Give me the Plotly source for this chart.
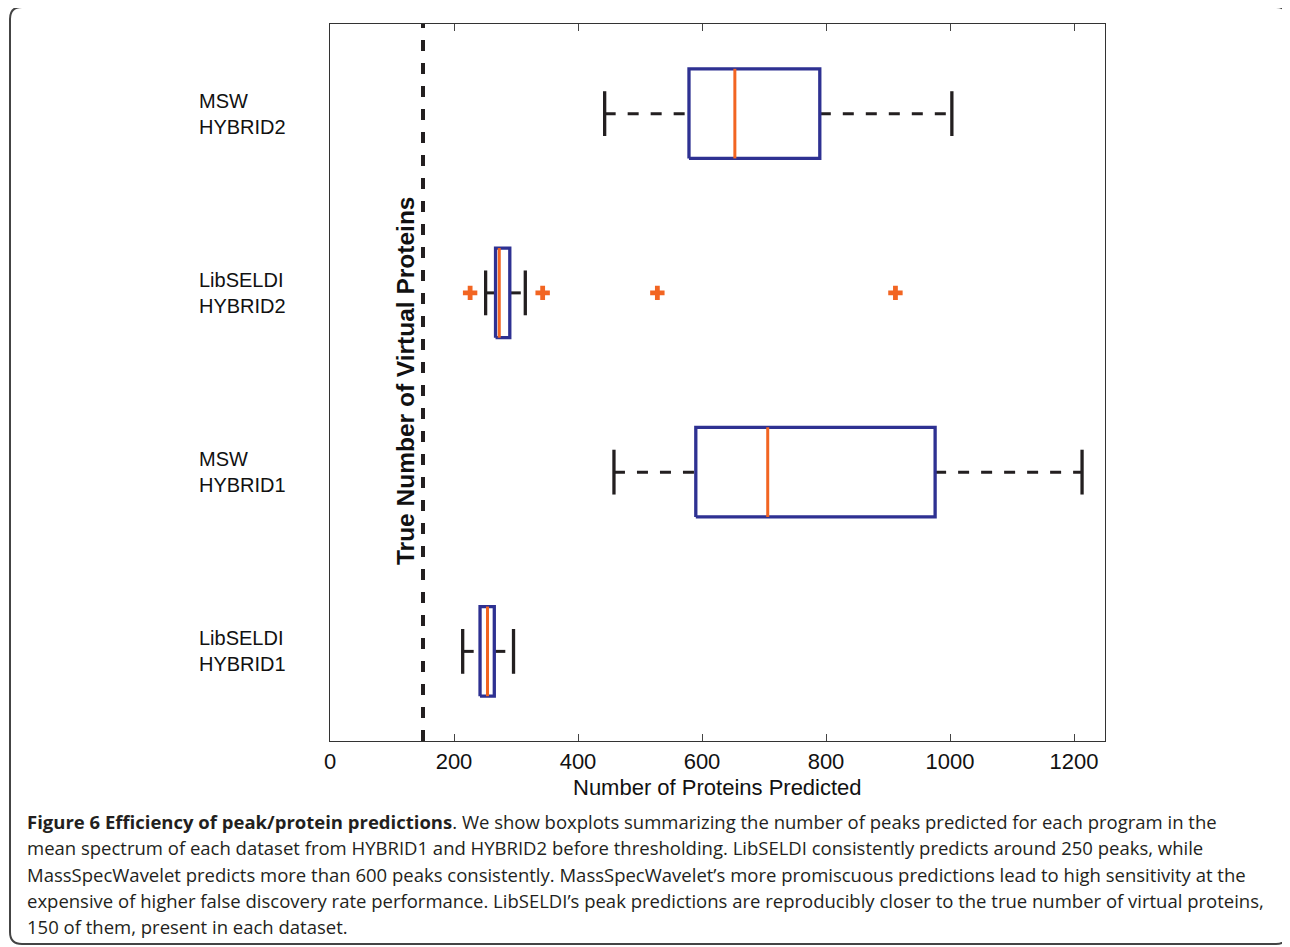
import plotly.graph_objects as go

# ---------------- data ----------------
group_labels = ["LibSELDI<br>HYBRID1", "MSW<br>HYBRID1", "LibSELDI<br>HYBRID2", "MSW<br>HYBRID2"]
group_pos = [1, 2, 3, 4]
lower_whisker = [214, 458, 251, 443]
q1 = [242, 590, 267, 579]
median = [254, 706, 273, 653]
q3 = [265, 976, 290, 790]
upper_whisker = [296, 1213, 315, 1003]
outlier_pos = [3, 3, 3, 3]
outlier_vals = [226, 343, 528, 912]
true_proteins = 150
x_ticks = [0, 200, 400, 600, 800, 1000, 1200]

caption_lines = [
    "<b>Figure 6 Efficiency of peak/protein predictions</b>. We show boxplots summarizing the number of peaks predicted for each program in the",
    "mean spectrum of each dataset from HYBRID1 and HYBRID2 before thresholding. LibSELDI consistently predicts around 250 peaks, while",
    "MassSpecWavelet predicts more than 600 peaks consistently. MassSpecWavelet\u2019s more promiscuous predictions lead to high sensitivity at the",
    "expensive of higher false discovery rate performance. LibSELDI\u2019s peak predictions are reproducibly closer to the true number of virtual proteins,",
    "150 of them, present in each dataset.",
]

# ---------------- layout geometry ----------------
OFF = 8  # page body margin of the html page
W, H = 1290 - OFF, 947 - OFF
L, R, T, B = 330, 1105, 24, 741  # plot area in screen pixels


def px(x):
    return (x - L) / (R - L)


def py(y):
    return (B - y) / (B - T)


BLUE = "#2E3192"
ORANGE = "#F26522"
BLACK = "#231F20"
HALF_BOX = 0.25
HALF_CAP = 0.125

fig = go.Figure()

for i, p in enumerate(group_pos):
    fig.add_trace(go.Scatter(x=[lower_whisker[i], q1[i]], y=[p, p], mode="lines",
                             line=dict(color=BLACK, width=3, dash="11px,12px"),
                             showlegend=False, hoverinfo="skip"))
    fig.add_trace(go.Scatter(x=[q3[i], upper_whisker[i]], y=[p, p], mode="lines",
                             line=dict(color=BLACK, width=3, dash="11px,12px"),
                             showlegend=False, hoverinfo="skip"))
    for wv in (lower_whisker[i], upper_whisker[i]):
        fig.add_trace(go.Scatter(x=[wv, wv], y=[p - HALF_CAP, p + HALF_CAP], mode="lines",
                                 line=dict(color=BLACK, width=3.3),
                                 showlegend=False, hoverinfo="skip"))
    fig.add_trace(go.Scatter(x=[q1[i], q3[i], q3[i], q1[i], q1[i]],
                             y=[p - HALF_BOX, p - HALF_BOX, p + HALF_BOX, p + HALF_BOX, p - HALF_BOX],
                             mode="lines", line=dict(color=BLUE, width=3.3),
                             showlegend=False, hoverinfo="skip"))
    fig.add_trace(go.Scatter(x=[median[i], median[i]], y=[p - HALF_BOX, p + HALF_BOX], mode="lines",
                             line=dict(color=ORANGE, width=3),
                             showlegend=False, hoverinfo="skip"))

fig.add_trace(go.Scatter(x=outlier_vals, y=outlier_pos, mode="markers",
                         marker=dict(symbol="cross", size=12, color=ORANGE, line=dict(width=0)),
                         showlegend=False, hoverinfo="skip"))

fig.add_trace(go.Scatter(x=[true_proteins, true_proteins], y=[0.5, 4.5], mode="lines",
                         line=dict(color=BLACK, width=4, dash="11px,12px"),
                         showlegend=False, hoverinfo="skip"))

annotations = []
for lab, p in zip(group_labels, group_pos):
    annotations.append(dict(x=px(197), y=p, xref="paper", yref="y", text=lab,
                            showarrow=False, xanchor="left", yanchor="middle", align="left",
                            font=dict(family="Liberation Sans, Arial", size=20, color="#111")))

annotations.append(dict(x=px(405), y=py(381), xref="paper", yref="paper",
                        text="<b>True Number of Virtual Proteins</b>", textangle=-90,
                        showarrow=False, xanchor="center", yanchor="middle",
                        font=dict(family="Liberation Sans, Arial", size=24.5, color="#111")))

annotations.append(dict(x=px(717), y=py(788), xref="paper", yref="paper",
                        text="Number of Proteins Predicted",
                        showarrow=False, xanchor="center", yanchor="middle",
                        font=dict(family="Liberation Sans, Arial", size=22, color="#111")))

cap_y = [822, 848, 874, 900, 927]
for line, yy in zip(caption_lines, cap_y):
    annotations.append(dict(x=px(25), y=py(yy), xref="paper", yref="paper", text=line,
                            showarrow=False, xanchor="left", yanchor="middle", align="left",
                            font=dict(family="Open Sans", size=18.5, color="#231F20")))

x0, x1, y0, y1, r = 10, 1288, 7, 944, 12
path = (f"M {px(x0 + r)},{py(y0)} L {px(x1 - r)},{py(y0)} "
        f"Q {px(x1)},{py(y0)} {px(x1)},{py(y0 + r)} "
        f"L {px(x1)},{py(y1 - r)} Q {px(x1)},{py(y1)} {px(x1 - r)},{py(y1)} "
        f"L {px(x0 + r)},{py(y1)} Q {px(x0)},{py(y1)} {px(x0)},{py(y1 - r)} "
        f"L {px(x0)},{py(y0 + r)} Q {px(x0)},{py(y0)} {px(x0 + r)},{py(y0)} Z")

fig.update_layout(
    width=W, height=H,
    margin=dict(l=L - OFF, r=1290 - R, t=T - OFF, b=947 - B),
    paper_bgcolor="white", plot_bgcolor="white",
    showlegend=False,
    annotations=annotations,
    shapes=[dict(type="path", path=path, xref="paper", yref="paper",
                 line=dict(color="#444", width=2), layer="below")],
    xaxis=dict(range=[0, 1250], tickvals=x_ticks, ticks="inside", ticklen=7, tickwidth=1,
               tickcolor="#444", showline=True, linecolor="#333", linewidth=1.3, mirror="ticks",
               showgrid=False, zeroline=False,
               tickfont=dict(family="Liberation Sans, Arial", size=22, color="#111")),
    yaxis=dict(range=[0.5, 4.5], showticklabels=False, ticks="", showline=True,
               linecolor="#333", linewidth=1.3, mirror=True, showgrid=False, zeroline=False),
)

fig.write_html("out.html")
